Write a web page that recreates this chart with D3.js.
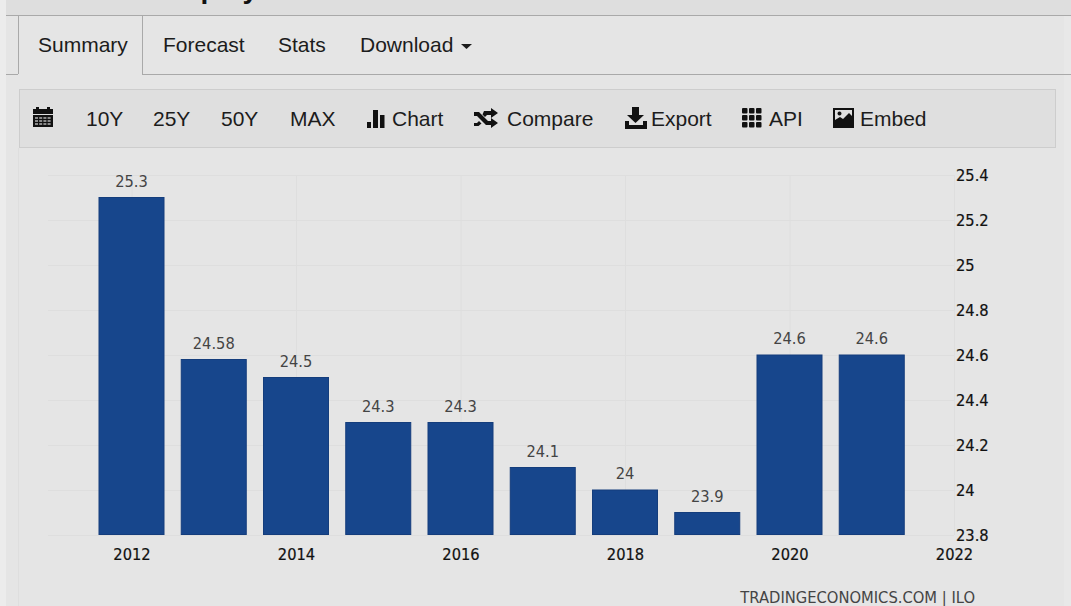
<!DOCTYPE html>
<html>
<head>
<meta charset="utf-8">
<script src="https://cdn.jsdelivr.net/npm/d3@7"></script>
<style>
    html, body { margin: 0; padding: 0; background: #ececec; overflow: hidden; }
    svg { display: block; }
    .nav { font-family: "Liberation Sans", Arial, sans-serif; font-size: 21px; fill: #1c1c1c; }
    .tick text, .val, .credit { font-family: "DejaVu Sans Condensed", "DejaVu Sans", sans-serif; font-stretch: condensed; }
    .tick text { font-size: 16.3px; fill: #111; stroke: #111; stroke-width: 0.2px; }
    .val { font-size: 16.3px; fill: #444; }
    .credit { font-size: 16.4px; fill: #444; }
</style>
</head>
<body>
<script>
const years = [2012, 2013, 2014, 2015, 2016, 2017, 2018, 2019, 2020, 2021]
const values = [25.3, 24.58, 24.5, 24.3, 24.3, 24.1, 24, 23.9, 24.6, 24.6]
const yTicks = [23.8, 24, 24.2, 24.4, 24.6, 24.8, 25, 25.2, 25.4]
const xTicks = [2012, 2014, 2016, 2018, 2020, 2022]
const tabs = ["Summary", "Forecast", "Stats", "Download"]
const tabX = [38, 163, 278, 360]
const tools = ["10Y", "25Y", "50Y", "MAX", "Chart", "Compare", "Export", "API", "Embed"]
const toolX = [86, 153, 221, 290, 392, 507, 651, 769, 860]

const width = 1071, height = 606
const svg = d3.select("body").append("svg").attr("width", width).attr("height", height)

// page panels
svg.append("rect").attr("x", 6).attr("y", 0).attr("width", 1065).attr("height", 15).attr("fill", "#dedede")
svg.append("rect").attr("x", 6).attr("y", 15).attr("width", 1058).attr("height", 591).attr("fill", "#e5e5e5")
svg.append("rect").attr("x", 1064).attr("y", 15).attr("width", 7).attr("height", 591).attr("fill", "#e8e8e8")

const border = (x1, y1, x2, y2, c) => svg.append("line")
    .attr("x1", x1).attr("y1", y1).attr("x2", x2).attr("y2", y2)
    .attr("stroke", c || "#a9a9a9").attr("stroke-width", 1)

border(6, 15.5, 1071, 15.5)
border(6, 74.5, 18, 74.5)
border(142, 74.5, 1071, 74.5)
border(18.5, 15, 18.5, 74)
border(142.5, 15, 142.5, 74)
border(18.5, 148, 18.5, 606, "#dedede")

// page heading, cut off by the crop
svg.append("text").attr("x", 157).attr("y", -2)
    .attr("font-family", "Liberation Sans, Arial, sans-serif")
    .attr("font-weight", "bold").attr("font-size", 28).attr("fill", "#111")
    .text("Employment")

svg.selectAll("text.tab").data(tabs).enter().append("text")
    .attr("class", "nav tab")
    .attr("x", (d, i) => tabX[i]).attr("y", 52)
    .text(d => d)
svg.append("path").attr("d", "M461 44h11l-5.500 5z").attr("fill", "#1c1c1c")

// toolbar
svg.append("rect").attr("x", 19.500).attr("y", 89.500).attr("width", 1036).attr("height", 58)
    .attr("fill", "#dfdfdf").attr("stroke", "#cdcdcd")
svg.selectAll("text.tool").data(tools).enter().append("text")
    .attr("class", "nav tool")
    .attr("x", (d, i) => toolX[i]).attr("y", 126)
    .text(d => d)

const icons = svg.append("g").attr("fill", "#111")
// calendar
icons.append("path").attr("d", "M33 109h3v-2h3v2h8v-2h3v2h3v5h-20z")
icons.append("path").attr("d", "M33 115h20v12h-20z")
d3.range(4).forEach(c => d3.range(3).forEach(r => {
    icons.append("rect").attr("x", 35 + c * 4.2).attr("y", 117 + r * 3)
        .attr("width", 3).attr("height", 2).attr("fill", "#8a8a8a")
}))
// bar chart
icons.append("path").attr("d", "M367 122h4v6h-4zM373 110h5v18h-5zM380 115h4.500v13h-4.500z")
// shuffle
icons.append("path").attr("d", "M474 112h5l9 9h3v-3l7 5-7 5v-3h-5l-9-9h-3zM474 123h3l2-2 2.500 2.500-3 2.500h-4.500zM484 111h7v-3l7 5-7 5v-3h-4l-2 2-2.500-2.500z")
// download
icons.append("path").attr("d", "M632 107h7v8h5l-8.500 8-8.500-8h5zM625 121h4v4h14v-4h4v8h-22z")
// grid
d3.range(3).forEach(c => d3.range(3).forEach(r => {
    icons.append("rect").attr("x", 742 + c * 7).attr("y", 108 + r * 7)
        .attr("width", 5.500).attr("height", 5.500).attr("rx", 1)
}))
// picture
icons.append("path").attr("fill-rule", "evenodd")
    .attr("d", "M833 108h21v20h-21zM835 110v10l5-3 3 2 6-6 3 3v-6zM839.500 111.500a2 2 0 1 0 .01 0z")

// chart
const x = d3.scaleLinear().domain([2012, 2022]).range([131.5, 954])
const y = d3.scaleLinear().domain([23.8, 25.4]).range([535, 175])
const barWidth = 66

const yAxis = d3.axisRight(y).tickValues(yTicks).tickFormat(d => String(+d.toFixed(1)))
    .tickSize(-(954 - 48)).tickPadding(2)
const xAxis = d3.axisBottom(x).tickValues(xTicks).tickFormat(d3.format("d"))
    .tickSize(-(535 - 175)).tickPadding(13)

const gx = svg.append("g").attr("transform", "translate(0,535)").call(xAxis)
gx.select(".domain").remove()
gx.selectAll(".tick line").attr("stroke", "#dedede")
gx.selectAll(".tick text").attr("dy", "0.71em")

const gy = svg.append("g").attr("transform", "translate(954,0)").call(yAxis)
gy.select(".domain").remove()
gy.selectAll(".tick line").attr("stroke", "#dedede")

svg.selectAll("rect.bar").data(values).enter().append("rect")
    .attr("class", "bar")
    .attr("x", (d, i) => x(years[i]) - barWidth / 2 + 0.5)
    .attr("y", d => y(d))
    .attr("width", barWidth - 1)
    .attr("height", d => y(23.8) - y(d) - 0.5)
    .attr("fill", "#17468c")
    .attr("stroke", "#143d7c")

svg.selectAll("text.val").data(values).enter().append("text")
    .attr("class", "val")
    .attr("x", (d, i) => x(years[i]))
    .attr("y", d => y(d) - 11)
    .attr("text-anchor", "middle")
    .text(d => d)

svg.append("text").attr("class", "credit")
    .attr("x", 975).attr("y", 603).attr("text-anchor", "end")
    .text("TRADINGECONOMICS.COM | ILO")
</script>
</body>
</html>
